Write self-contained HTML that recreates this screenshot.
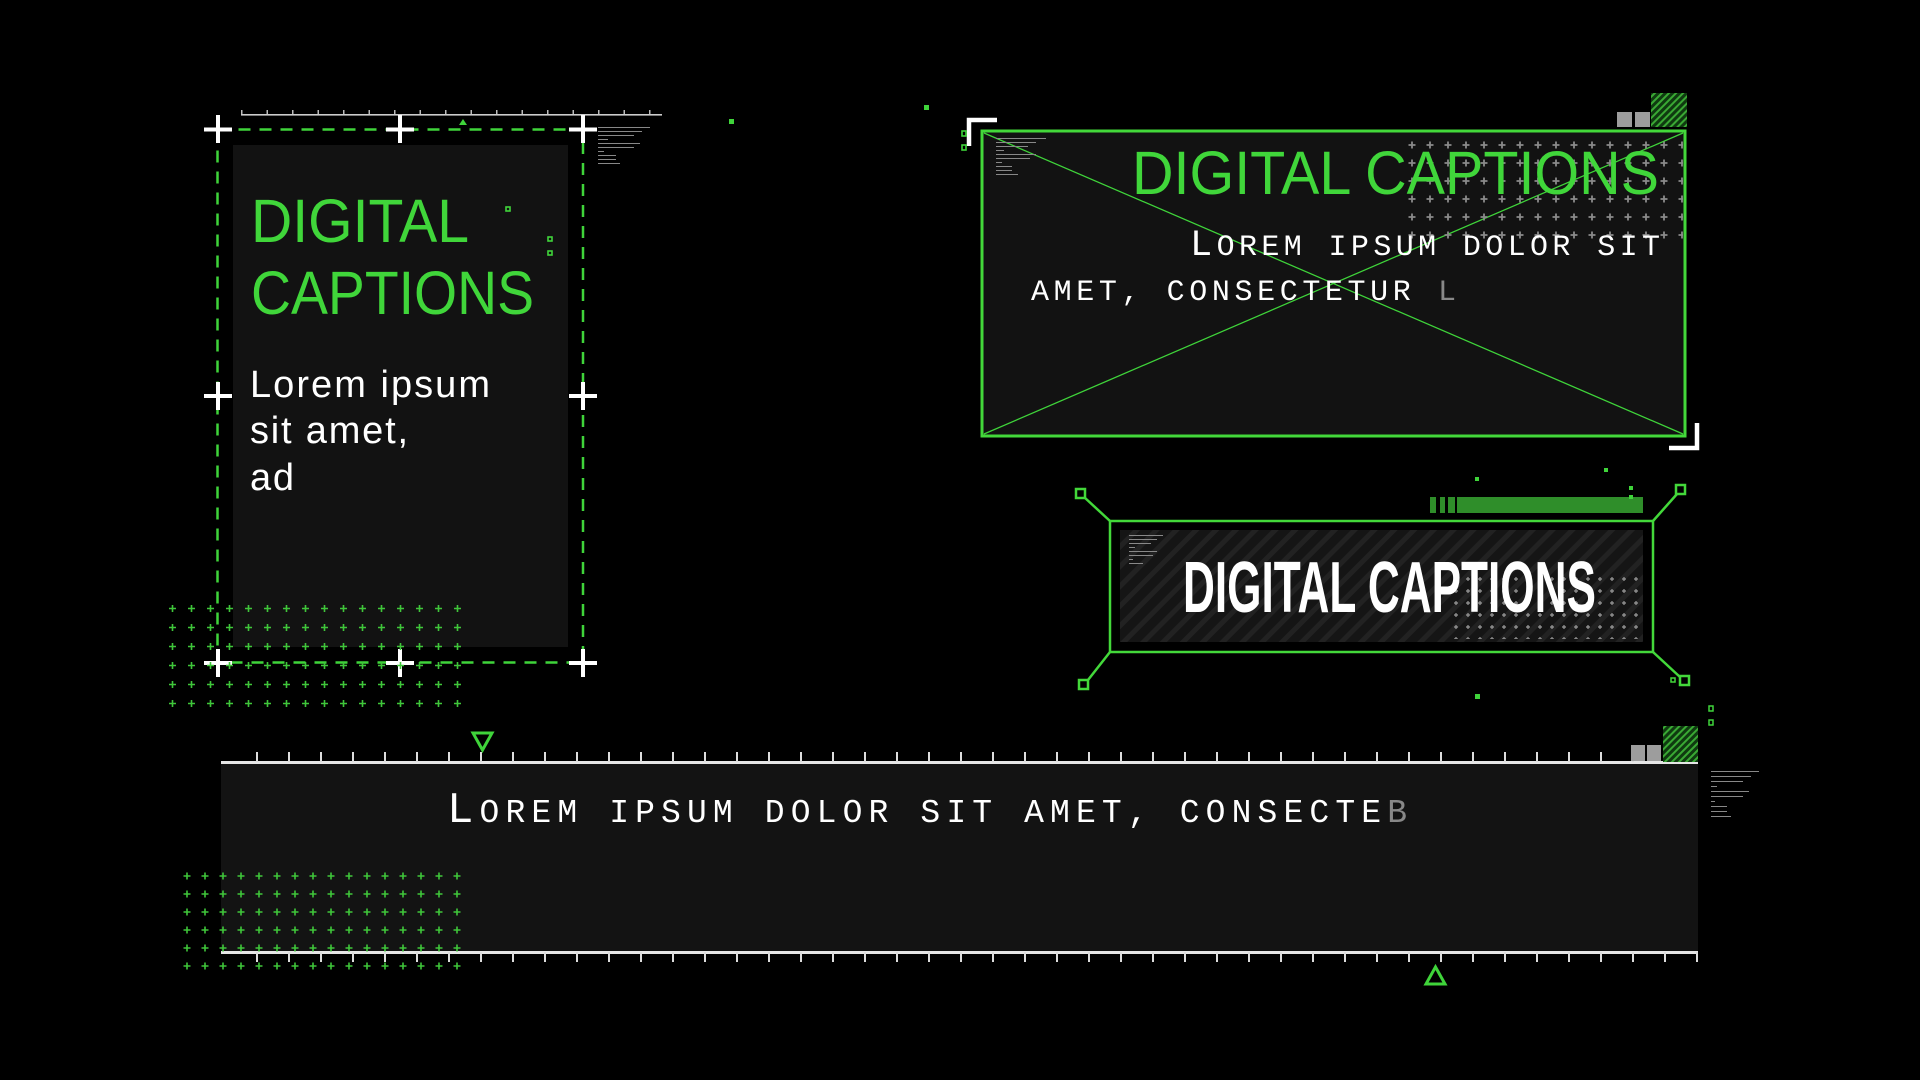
<!DOCTYPE html>
<html><head><meta charset="utf-8"><style>
html,body{margin:0;padding:0;background:#000;width:1920px;height:1080px;overflow:hidden}
svg{display:block}
</style></head><body>
<svg width="1920" height="1080" viewBox="0 0 1920 1080" xmlns="http://www.w3.org/2000/svg">
<defs>
<pattern id="gplus" x="163" y="599" width="19" height="19" patternUnits="userSpaceOnUse">
<path d="M9.5 6v7M6 9.5h7" stroke="#3fc63a" stroke-width="1.6"/></pattern>
<pattern id="gplus2" x="178" y="867" width="18" height="18" patternUnits="userSpaceOnUse">
<path d="M9 5.5v7M5.5 9h7" stroke="#3fc63a" stroke-width="1.6"/></pattern>
<pattern id="wplus" x="1403" y="136" width="18" height="18" patternUnits="userSpaceOnUse">
<path d="M9 5.5v7M5.5 9h7" stroke="#8a8a8a" stroke-width="1.8"/></pattern>
<pattern id="wplus2" x="1450" y="573" width="12" height="12" patternUnits="userSpaceOnUse">
<path d="M6 4v4M4 6h4" stroke="#999" stroke-width="1.2"/></pattern>
<pattern id="stripe" width="14" height="14" patternUnits="userSpaceOnUse" patternTransform="rotate(45)">
<rect width="14" height="14" fill="#151515"/><rect width="5" height="14" fill="#222"/></pattern>
<pattern id="hatch" width="5" height="5" patternUnits="userSpaceOnUse" patternTransform="rotate(45)">
<rect width="5" height="5" fill="#0f3a10"/><rect width="2" height="5" fill="#3aa934"/></pattern>
<pattern id="tickT" x="0" y="0" width="32" height="20" patternUnits="userSpaceOnUse">
<rect x="0" y="0" width="2" height="20" fill="#ddd"/></pattern>
<pattern id="tickR" x="241" width="25.5" height="10" patternUnits="userSpaceOnUse">
<rect x="0" y="0" width="1.5" height="10" fill="#bbb"/></pattern>
</defs>

<!-- LEFT PANEL -->
<rect x="233" y="145" width="335" height="502" fill="#121212"/>
<rect x="217.5" y="129.5" width="365.5" height="533" fill="none" stroke="#3fd43a" stroke-width="2.5" stroke-dasharray="12 9"/>
<rect x="241" y="114" width="421" height="1.6" fill="#ccc"/>
<rect x="241" y="110" width="421" height="4" fill="url(#tickR)"/>
<path d="M459 125l4-6 4 6z" fill="#3fd43a"/>
<g fill="#fff">
<rect x="204" y="127.5" width="28" height="4"/><rect x="216" y="115" width="4" height="28"/>
<rect x="386" y="127.5" width="28" height="4"/><rect x="398" y="115" width="4" height="28"/>
<rect x="569" y="127.5" width="28" height="4"/><rect x="581" y="115" width="4" height="28"/>
<rect x="204" y="394" width="28" height="4"/><rect x="216" y="382" width="4" height="28"/>
<rect x="569" y="394" width="28" height="4"/><rect x="581" y="382" width="4" height="28"/>
<rect x="204" y="661" width="28" height="4"/><rect x="216" y="649" width="4" height="28"/>
<rect x="386" y="661" width="28" height="4"/><rect x="398" y="649" width="4" height="28"/>
<rect x="569" y="661" width="28" height="4"/><rect x="581" y="649" width="4" height="28"/>
</g>
<rect x="163" y="599" width="304" height="114" fill="url(#gplus)"/>
<g fill="#888">
<rect x="598" y="127" width="52" height="1"/><rect x="598" y="131" width="44" height="1"/><rect x="598" y="135" width="36" height="1"/>
<rect x="598" y="139" width="10" height="1"/><rect x="598" y="143" width="42" height="1"/><rect x="598" y="147" width="36" height="1"/>
<rect x="598" y="151" width="6" height="1"/><rect x="598" y="155" width="18" height="1"/><rect x="598" y="159" width="18" height="1"/><rect x="598" y="163" width="22" height="1"/>
</g>
<text x="251" y="242" font-family="Liberation Sans, sans-serif" font-size="61" fill="#40d63a" textLength="218" lengthAdjust="spacingAndGlyphs">DIGITAL</text>
<text x="251" y="314" font-family="Liberation Sans, sans-serif" font-size="61" fill="#40d63a" textLength="283" lengthAdjust="spacingAndGlyphs">CAPTIONS</text>
<g font-family="Liberation Sans, sans-serif" font-size="38" fill="#fff">
<text x="250" y="397" textLength="240" lengthAdjust="spacing">Lorem ipsum</text>
<text x="250" y="443" textLength="158" lengthAdjust="spacing">sit amet,</text>
<text x="250" y="490" textLength="44" lengthAdjust="spacing">ad</text>
</g>
<g fill="none" stroke="#3fd43a" stroke-width="1.6">
<rect x="506" y="207" width="4" height="4"/><rect x="548" y="237" width="4" height="4"/><rect x="548" y="251" width="4" height="4"/>
</g>
<rect x="729" y="119" width="5" height="5" fill="#3fd43a"/>
<rect x="924" y="105" width="5" height="5" fill="#3fd43a"/>

<!-- TOP RIGHT BOX -->
<rect x="982" y="131" width="703" height="305" fill="#121212" stroke="#43d83a" stroke-width="3"/>
<path d="M984 133L1683 434M984 434L1683 133" stroke="#3fd43a" stroke-width="1.3"/>
<rect x="1403" y="136" width="280" height="108" fill="url(#wplus)"/>
<path d="M969 146V120h28" fill="none" stroke="#fff" stroke-width="4.5"/>
<path d="M1697 423v25h-28" fill="none" stroke="#fff" stroke-width="4.5"/>
<rect x="1617" y="112" width="15" height="15" fill="#9d9d9d"/><rect x="1635" y="112" width="15" height="15" fill="#9d9d9d"/>
<rect x="1651" y="93" width="36" height="34" fill="url(#hatch)"/>
<g fill="none" stroke="#3fd43a" stroke-width="1.6"><rect x="962" y="131" width="4" height="5"/><rect x="962" y="145" width="4" height="5"/></g>
<g fill="#888">
<rect x="996" y="138" width="50" height="1"/><rect x="996" y="142" width="40" height="1"/><rect x="996" y="146" width="32" height="1"/>
<rect x="996" y="150" width="8" height="1"/><rect x="996" y="154" width="40" height="1"/><rect x="996" y="158" width="34" height="1"/>
<rect x="996" y="162" width="6" height="1"/><rect x="996" y="166" width="16" height="1"/><rect x="996" y="170" width="16" height="1"/><rect x="996" y="174" width="22" height="1"/>
</g>
<text x="1132" y="194" font-family="Liberation Sans, sans-serif" font-size="61" fill="#40d63a" textLength="527" lengthAdjust="spacingAndGlyphs">DIGITAL CAPTIONS</text>
<text x="1190" y="255" font-family="Liberation Mono, monospace" font-size="30" fill="#fff" textLength="470" lengthAdjust="spacing"><tspan font-size="37">L</tspan>OREM IPSUM DOLOR SIT</text>
<text x="1031" y="300" font-family="Liberation Mono, monospace" font-size="30" fill="#fff" textLength="425" lengthAdjust="spacing">AMET, CONSECTETUR <tspan fill="#888">L</tspan></text>

<!-- BOTTOM RIGHT BOX -->
<g stroke="#43d83a" stroke-width="2.5" fill="none">
<rect x="1110" y="521" width="543" height="131"/>
<path d="M1084 497L1110 521M1677 494L1653 521M1088 680L1110 652M1680 677L1653 652"/>
<rect x="1076" y="489" width="9" height="9"/><rect x="1676" y="485" width="9" height="9"/>
<rect x="1079" y="680" width="9" height="9"/><rect x="1680" y="676" width="9" height="9"/>
<rect x="1671" y="678" width="4" height="4" stroke-width="1.5"/>
</g>
<rect x="1120" y="530" width="523" height="112" fill="url(#stripe)"/>
<rect x="1450" y="573" width="193" height="66" fill="url(#wplus2)"/>
<g fill="#2f8e2a">
<rect x="1430" y="497" width="6" height="16"/><rect x="1440" y="497" width="5" height="16"/><rect x="1448" y="497" width="7" height="16"/>
<rect x="1457" y="497" width="186" height="16"/>
</g>
<g fill="#3fd43a"><rect x="1475" y="477" width="4" height="4"/><rect x="1604" y="468" width="4" height="4"/><rect x="1629" y="486" width="4" height="4"/><rect x="1629" y="495" width="4" height="4"/><rect x="1475" y="694" width="5" height="5"/></g>
<g fill="none" stroke="#3fd43a" stroke-width="1.5"><rect x="1709" y="706" width="4" height="5"/><rect x="1709" y="720" width="4" height="5"/></g>
<g fill="#888">
<rect x="1129" y="535" width="34" height="1"/><rect x="1129" y="539" width="28" height="1"/><rect x="1129" y="543" width="22" height="1"/>
<rect x="1129" y="547" width="6" height="1"/><rect x="1129" y="551" width="28" height="1"/><rect x="1129" y="555" width="24" height="1"/>
<rect x="1129" y="559" width="4" height="1"/><rect x="1129" y="563" width="14" height="1"/>
</g>
<text x="1183" y="612" font-family="Liberation Sans Narrow, Liberation Sans, sans-serif" font-weight="bold" font-size="72" fill="#fff" textLength="413" lengthAdjust="spacingAndGlyphs">DIGITAL CAPTIONS</text>

<!-- BOTTOM BAR -->
<rect x="221" y="764" width="1477" height="189" fill="#131313"/>
<rect x="221" y="761" width="1477" height="3" fill="#e6e6e6"/>
<rect x="221" y="951" width="1477" height="3" fill="#e6e6e6"/>
<rect x="226" y="752" width="1464" height="10" fill="url(#tickT)"/>
<rect x="226" y="952" width="1472" height="10" fill="url(#tickT)"/>
<path d="M473 733h19l-9.5 17z" fill="none" stroke="#3fd43a" stroke-width="3"/>
<path d="M1426 984h19l-9.5-17z" fill="none" stroke="#3fd43a" stroke-width="3"/>
<rect x="1631" y="745" width="14" height="16" fill="#9d9d9d"/><rect x="1647" y="745" width="14" height="16" fill="#9d9d9d"/>
<rect x="1663" y="726" width="35" height="36" fill="url(#hatch)"/>
<g fill="#888">
<rect x="1711" y="771" width="48" height="1"/><rect x="1711" y="776" width="40" height="1"/><rect x="1711" y="781" width="32" height="1"/>
<rect x="1711" y="786" width="6" height="1"/><rect x="1711" y="791" width="38" height="1"/><rect x="1711" y="796" width="32" height="1"/>
<rect x="1711" y="801" width="4" height="1"/><rect x="1711" y="806" width="16" height="1"/><rect x="1711" y="811" width="16" height="1"/><rect x="1711" y="816" width="20" height="1"/>
</g>
<rect x="178" y="867" width="290" height="108" fill="url(#gplus2)"/>
<text x="447" y="822" font-family="Liberation Mono, monospace" font-size="33" fill="#fff" textLength="960" lengthAdjust="spacing"><tspan font-size="44">L</tspan>OREM IPSUM DOLOR SIT AMET, CONSECTE<tspan fill="#888">B</tspan></text>
</svg>
</body></html>
